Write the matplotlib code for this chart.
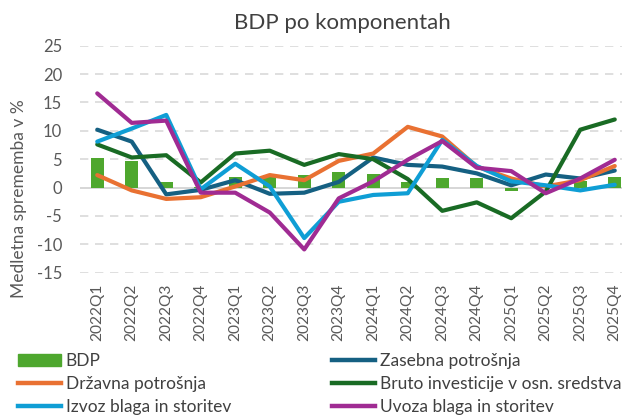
import matplotlib
matplotlib.use("Agg")
import matplotlib.pyplot as plt
import numpy as np
from matplotlib.patches import Patch
from matplotlib.lines import Line2D

quarters = ["2022Q1","2022Q2","2022Q3","2022Q4","2023Q1","2023Q2","2023Q3","2023Q4",
            "2024Q1","2024Q2","2024Q3","2024Q4","2025Q1","2025Q2","2025Q3","2025Q4"]
bdp      = [5.2, 4.7, 0.9, 0.1, 1.8, 2.3, 2.2, 2.8, 2.4, 1.0, 1.7, 1.6, -0.6, 0.1, 1.2, 1.9]
zasebna  = [10.2, 8.1, -1.2, -0.4, 1.3, -1.1, -0.9, 1.0, 5.3, 4.0, 3.7, 2.5, 0.4, 2.3, 1.6, 3.0]
drzavna  = [2.2, -0.5, -2.0, -1.7, 0.2, 2.2, 1.3, 4.7, 6.0, 10.7, 9.0, 3.7, 1.6, 0.2, 1.3, 3.8]
bruto    = [7.6, 5.3, 5.7, 0.9, 6.0, 6.5, 4.0, 5.9, 5.0, 1.5, -4.1, -2.6, -5.4, -0.7, 10.2, 12.0]
izvoz    = [8.1, 10.4, 12.8, -0.3, 4.2, 0.2, -8.9, -2.5, -1.3, -1.0, 8.4, 3.8, 1.1, 0.4, -0.5, 0.5]
uvoz     = [16.6, 11.4, 11.8, -0.9, -0.9, -4.4, -10.9, -1.9, 1.1, 4.9, 8.2, 3.5, 2.9, -1.0, 1.6, 4.9]

names = ["BDP", "Zasebna potrošnja", "Državna potrošnja",
         "Bruto investicije v osn. sredstva", "Izvoz blaga in storitev", "Uvoza blaga in storitev"]
colors = ["#4EA72E", "#156082", "#E97132", "#196B24", "#0F9ED5", "#A02B93"]

plt.rcParams['font.family'] = ['Lato', 'DejaVu Sans']
plt.rcParams['axes.unicode_minus'] = False
W, H = 622, 417
fig = plt.figure(figsize=(W/100, H/100), dpi=100)
left, right = 80, 632
top, bottom = 45.7, 272.7
ax = fig.add_axes([left/W, 1-bottom/H, (right-left)/W, (bottom-top)/H])

x = np.arange(len(quarters))
ax.bar(x, bdp, width=0.39, color=colors[0], zorder=2)
series = [zasebna, drzavna, bruto, izvoz, uvoz]
for s, c in zip(series, colors[1:]):
    ax.plot(x, s, color=c, lw=3, zorder=3, solid_capstyle='round', solid_joinstyle='round')

ax.set_xlim(-0.5, len(quarters)-0.5)
ax.set_ylim(-15, 25)
ax.set_yticks(range(-15, 26, 5))
ax.set_xticks(x)
ax.set_xticklabels(quarters, rotation=90)
for yv in range(-15, 26, 5):
    if yv == 0:
        ax.axhline(0, color="#d0d0d0", lw=1.2, zorder=1)
    else:
        ax.axhline(yv, color="#d9d9d9", lw=1.2, ls=(0, (5, 4)), zorder=1)
for sp in ax.spines.values():
    sp.set_visible(False)
ax.tick_params(length=0, colors="#595959", labelsize=12)
ax.tick_params(axis='x', pad=8, labelsize=11.2)
ax.tick_params(axis='y', pad=13)
ax.set_ylabel("Medletna sprememba v %", color="#595959", fontsize=12.5)
ax.yaxis.set_label_coords((27 - left)/(right-left), 0.5 + (159.2 - 199)/(bottom-top))
fig.text(342/W, 1-23/H, "BDP po komponentah", ha='center', va='center', fontsize=16, color="#404040")

handles = [Patch(color=colors[0])] + [Line2D([], [], color=c, lw=3.2) for c in colors[1:]]
fs = 12.5
common = dict(loc='upper left', frameon=False, fontsize=fs, handlelength=2.45,
              handletextpad=0.3, labelspacing=0.4, borderaxespad=0, borderpad=0,
              labelcolor="#404040")
col1 = [0, 2, 4]
col2 = [1, 3, 5]
fig.legend([handles[i] for i in col1], [names[i] for i in col1],
           bbox_to_anchor=(18/W, 1-353/H), **common)
fig.legend([handles[i] for i in col2], [names[i] for i in col2],
           bbox_to_anchor=(332/W, 1-353/H), **common)
fig.savefig("out.png", dpi=100)
